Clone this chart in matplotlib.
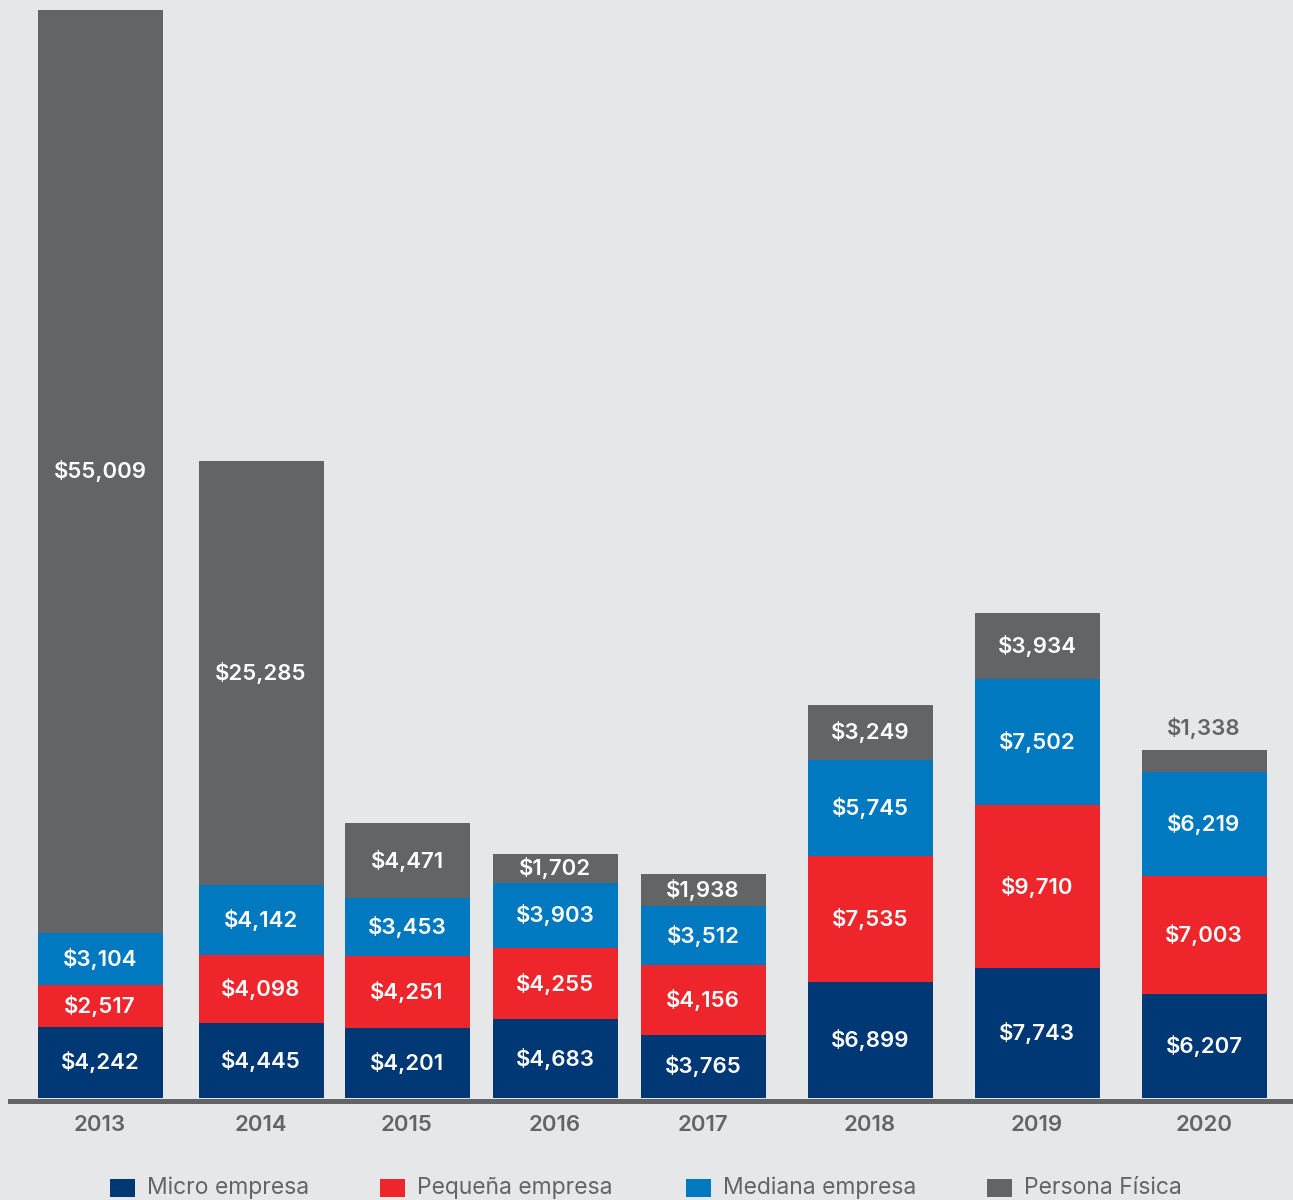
import numpy as np
import matplotlib.pyplot as plt
from matplotlib.patches import Rectangle
from matplotlib.lines import Line2D

plt.rcParams['font.family'] = ['Inter', 'DejaVu Sans']

years = ['2013', '2014', '2015', '2016', '2017', '2018', '2019', '2020']
micro = [4242, 4445, 4201, 4683, 3765, 6899, 7743, 6207]
pequena = [2517, 4098, 4251, 4255, 4156, 7535, 9710, 7003]
mediana = [3104, 4142, 3453, 3903, 3512, 5745, 7502, 6219]
persona = [55009, 25285, 4471, 1702, 1938, 3249, 3934, 1338]

series = ['Micro empresa', 'Pequeña empresa', 'Mediana empresa', 'Persona Física']
colors = ['#003876', '#ee252b', '#0079c1', '#636466']
bg = '#e6e7e9'
grey = '#636466'

# bar centres in pixel units (the original spacing is uneven)
xpos = [100, 261, 407, 555, 703, 870, 1037, 1204]
width = 125

W, H = 1293, 1200
fig = plt.figure(figsize=(W / 100, H / 100), dpi=100, facecolor=bg)
bottom_px = 1098
ax = fig.add_axes([0, (H - bottom_px) / H, 1, bottom_px / H])
ax.set_facecolor(bg)
ax.set_xlim(0, W)
total_max = max(np.array(micro) + np.array(pequena) + np.array(mediana) + np.array(persona))
ax.set_ylim(0, total_max * bottom_px / (bottom_px - 10))
ax.axis('off')

data = [micro, pequena, mediana, persona]
base = np.zeros(len(years))
for k, vals in enumerate(data):
    vals = np.array(vals, dtype=float)
    ax.bar(xpos, vals, width=width, bottom=base, color=colors[k], linewidth=0)
    for i, v in enumerate(vals):
        label = '${:,}'.format(int(v))
        if v < 1500:
            # too small to hold its label: put it above
            ax.annotate(label, (xpos[i], base[i] + v), xytext=(0, 8),
                        textcoords='offset points', ha='center', va='bottom',
                        color=grey, fontsize=16, fontweight='semibold')
        else:
            ax.text(xpos[i], base[i] + v / 2, label, ha='center', va='center',
                    color='white', fontsize=16, fontweight='semibold')
    base += vals

# baseline
fig.add_artist(Line2D([10 / W, 1], [(H - 1100.5) / H] * 2, color=grey, lw=3.6,
                      transform=fig.transFigure))

# year labels
for i, y in enumerate(years):
    fig.text(xpos[i] / W, (H - 1125) / H, y, ha='center', va='center',
             color=grey, fontsize=16, fontweight='semibold')

# legend
leg_x = [110, 380, 686, 987]
for k, name in enumerate(series):
    fig.add_artist(Rectangle((leg_x[k] / W, (H - 1197) / H), 25 / W, 18 / H,
                             color=colors[k], transform=fig.transFigure, lw=0))
    fig.text((leg_x[k] + 37) / W, (H - 1188) / H, name, ha='left', va='center',
             color=grey, fontsize=16.5)

fig.savefig('out.png', dpi=100, facecolor=bg)
